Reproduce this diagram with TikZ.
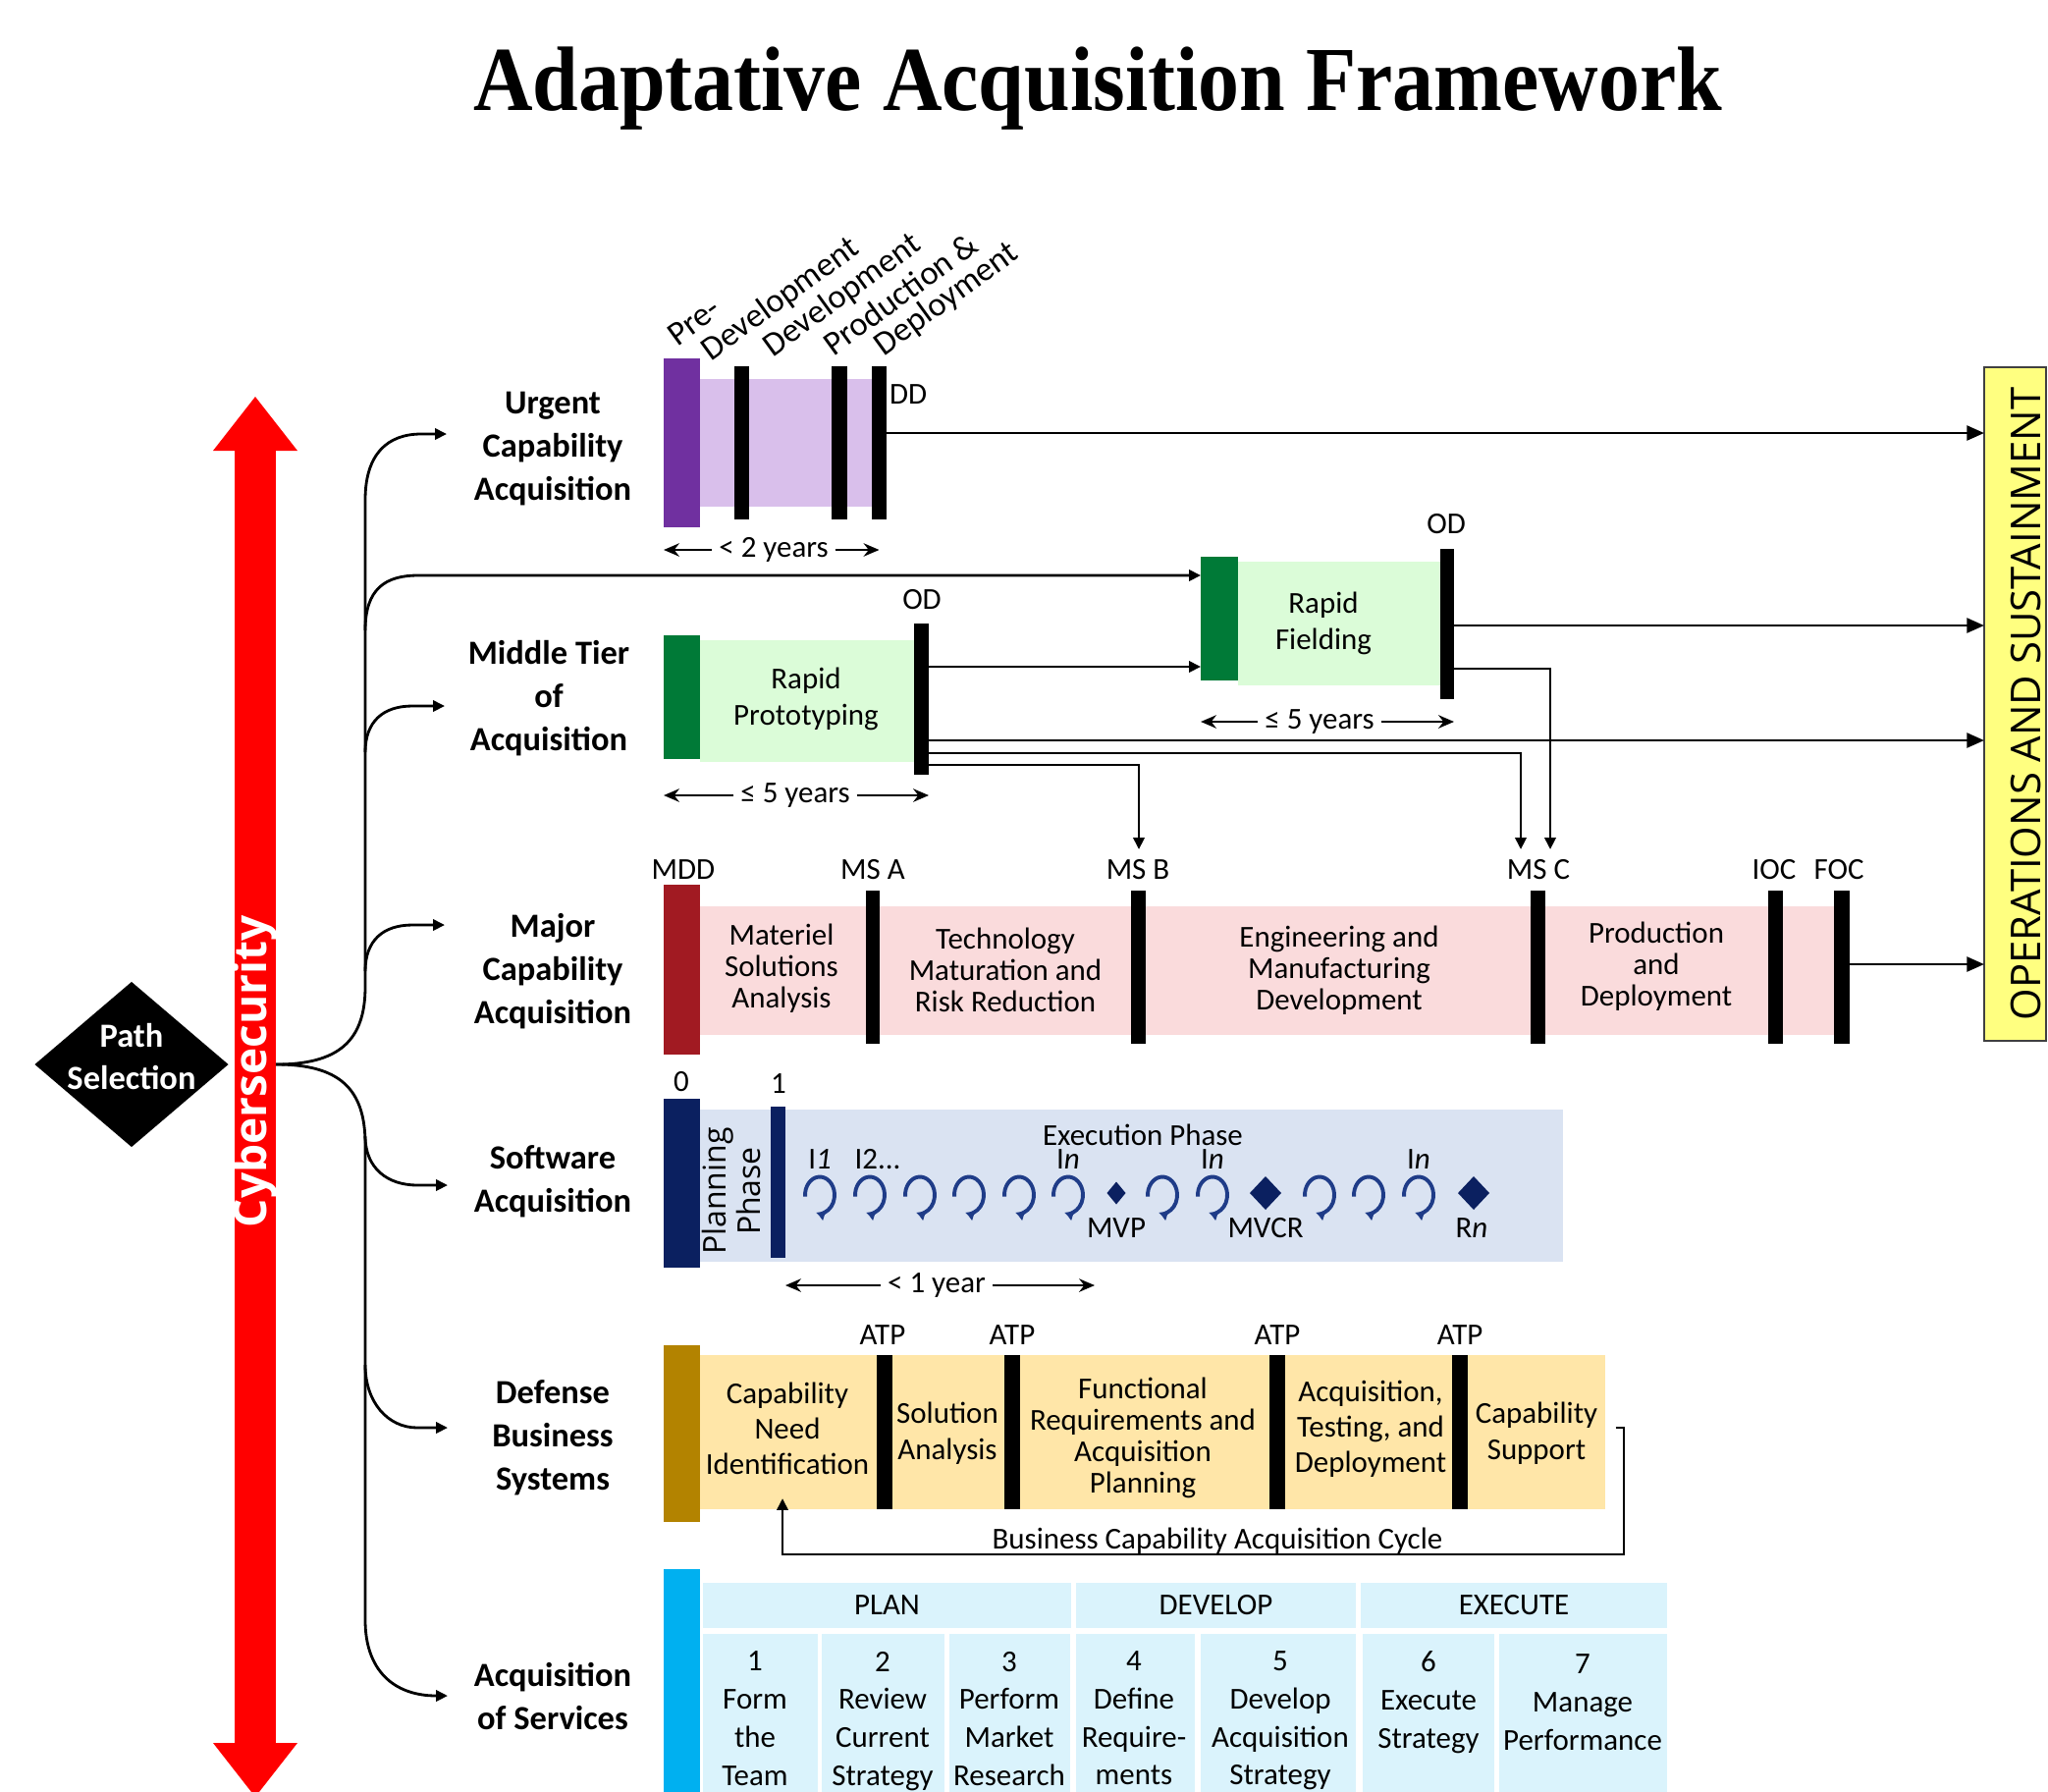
\documentclass[tikz,border=0pt]{standalone}
\usepackage{fontspec}
\setmainfont{Carlito}
\newfontfamily\osans{Open Sans}
\newfontfamily\tserif{Liberation Serif}
\usetikzlibrary{arrows.meta,fit,shapes.geometric}
\definecolor{purp}{HTML}{7030A0}
\definecolor{lpurp}{HTML}{D9BFEB}
\definecolor{dgreen}{HTML}{007A37}
\definecolor{lgreen}{HTML}{DBFCD8}
\definecolor{dred}{HTML}{A11A22}
\definecolor{pinkband}{HTML}{FADBDC}
\definecolor{navy}{HTML}{0B2060}
\definecolor{lblue}{HTML}{DAE3F2}
\definecolor{gold}{HTML}{B38300}
\definecolor{lyellow}{HTML}{FFE6A8}
\definecolor{cyanbar}{HTML}{00B0F0}
\definecolor{lcyan}{HTML}{DAF3FC}
\definecolor{opsy}{HTML}{FFFF80}
\definecolor{loopblue}{HTML}{1F3C88}
\tikzset{
  every node/.style={inner sep=0pt, outer sep=0pt},
  txt/.style={align=center, font=\fontsize{8.8}{9.1}\selectfont},
  rowlbl/.style={align=center, font=\bfseries\fontsize{9.8}{12.5}\selectfont},
  conn/.style={line width=0.8pt},
  tipS/.style={-{Triangle[length=3.4pt,width=3.2pt]}},
  tipL/.style={-{Triangle[length=5pt,width=4.2pt]}},
  dimarr/.style={line width=0.8pt, -{Stealth[length=4.5pt,width=3.8pt]}},
  rotlbl/.style={anchor=base west, rotate=36, font=\fontsize{9.8}{11}\selectfont},
  loopicon/.pic={\draw[loopblue, line width=1.1pt, -{Latex[length=2.6pt,width=3.4pt]}]
      (185:0.15cm and 0.185cm) arc[start angle=185, end angle=-105, x radius=0.15cm, y radius=0.185cm];}
}
\begin{document}
\begin{tikzpicture}[x=0.01cm,y=-0.01cm]
\useasboundingbox (0,0) rectangle (2086,1824);
\clip (0,0) rectangle (2086,1824);

% title
\node[anchor=base, font=\tserif\bfseries\fontsize{26.5}{30}\selectfont] (title) at (1118,112)
  {\scalebox{0.9}[1]{Adaptative Acquisition Framework}};

% red cybersecurity arrow
\node[fit={(239,459) (281,1775)}, fill=red] (cyber) {};
\fill[red] (217,459) -- (260,404) -- (303,459) -- cycle;
\fill[red] (217,1775) -- (260,1830) -- (303,1775) -- cycle;
\node[rotate=90, text=white, font=\osans\bfseries\fontsize{13.1}{14}\selectfont] (cybertxt) at (260,1091) {Cybersecurity};

% path selection
\node[diamond, fill=black, minimum width=1.97cm, minimum height=1.68cm] (psel) at (134,1084) {};
\node[rowlbl, text=white] (pseltxt) at (134,1076) {Path\\Selection};

% row labels
\node[rowlbl] (lU) at (563,457) {Urgent\\Capability\\Acquisition};
\node[rowlbl] (lM) at (559,711) {Middle Tier\\of\\Acquisition};
\node[rowlbl] (lJ) at (563,989) {Major\\Capability\\Acquisition};
\node[rowlbl] (lS) at (563,1203) {Software\\Acquisition};
\node[rowlbl] (lD) at (563,1464) {Defense\\Business\\Systems};
\node[rowlbl] (lA) at (563,1727) {Acquisition\\of Services};

\coordinate (J) at (cyber.east |- psel.center);
\coordinate (aU) at (455,442);
\coordinate (aM) at (453,719);
\coordinate (aJ) at (453,942);
\coordinate (aS) at (456,1207);
\coordinate (aD) at (456,1454);
\coordinate (aA) at (456,1727);

% OPS box
\node[fit={(2021,374) (2084,1060)}, fill=opsy, draw=black!75, line width=0.6pt] (ops) {};
\node[rotate=90, font=\osans\fontsize{11.9}{12}\selectfont] (opstxt) at (2063,717) {OPERATIONS AND SUSTAINMENT};

% ---------- Urgent row
\node[fit={(713,386) (890,516)}, fill=lpurp] (uBand) {};
\node[fit={(676,365) (713,537)}, fill=purp] (uPre) {};
\node[fit={(748,373) (763,529)}, fill=black] (u1) {};
\node[fit={(847,373) (863,529)}, fill=black] (u2) {};
\node[fit={(888,373) (903,529)}, fill=black] (u3) {};
\node[txt, anchor=west] (dd) at (906,402) {DD};
\node[rotlbl] (r1) at (690,353) {Pre-};
\node[rotlbl] (r2) at (724,368) {Development};
\node[rotlbl] (r3) at (787,364) {Development};
\node[rotlbl] (r4) at (849,363) {Production \&};
\node[rotlbl] (r5) at (900,363) {Deployment};
\node[txt] (u2y) at (788,560) {< 2 years};
\draw[dimarr] ([xshift=-2pt]u2y.west) -- (u2y.west -| uPre.west);
\draw[dimarr] ([xshift=2pt]u2y.east) -- (u2y.east -| u3.center);

% ---------- Middle tier row
\node[fit={(713,652) (931,776)}, fill=lgreen] (rpBand) {};
\node[fit={(676,647) (713,773)}, fill=dgreen] (rpG) {};
\node[fit={(931,635) (946,789)}, fill=black] (rpBar) {};
\node[txt, font=\fontsize{8.8}{10.5}\selectfont] (rpTxt) at (821,712) {Rapid\\Prototyping};
\node[txt] (od1) at (939,611) {OD};
\node[txt] (rp5y) at (810,810) {≤ 5 years};
\draw[dimarr] ([xshift=-2pt]rp5y.west) -- (rp5y.west -| rpG.west);
\draw[dimarr] ([xshift=2pt]rp5y.east) -- (rp5y.east -| rpBar.east);

\node[fit={(1261,572) (1470,698)}, fill=lgreen] (rfBand) {};
\node[fit={(1223,567) (1261,693)}, fill=dgreen] (rfG) {};
\node[fit={(1467,559) (1481,712)}, fill=black] (rfBar) {};
\node[txt, font=\fontsize{8.8}{10.5}\selectfont] (rfTxt) at (1348,635) {Rapid\\Fielding};
\node[txt] (od2) at (1473,534) {OD};
\node[txt] (rf5y) at (1344,735) {≤ 5 years};
\draw[dimarr] ([xshift=-2pt]rf5y.west) -- (rf5y.west -| rfG.west);
\draw[dimarr] ([xshift=2pt]rf5y.east) -- (rf5y.east -| rfBar.east);

% ---------- Major row
\node[fit={(713,923) (1869,1054)}, fill=pinkband] (mBand) {};
\node[fit={(676,901) (713,1074)}, fill=dred] (mDD) {};
\node[fit={(882,907) (896,1063)}, fill=black] (msA) {};
\node[fit={(1152,907) (1167,1063)}, fill=black] (msB) {};
\node[fit={(1559,907) (1574,1063)}, fill=black] (msC) {};
\node[fit={(1801,907) (1816,1063)}, fill=black] (ioc) {};
\node[fit={(1868,907) (1884,1063)}, fill=black] (foc) {};
\node[txt] (tMDD) at (696,886) {MDD};
\node[txt] (tMSA) at (889,886) {MS A};
\node[txt] (tMSB) at (1159,886) {MS B};
\node[txt] (tMSC) at (1567,886) {MS C};
\node[txt] (tIOC) at (1807,886) {IOC};
\node[txt] (tFOC) at (1873,886) {FOC};
\node[txt] (p1) at (796,986) {Materiel\\Solutions\\Analysis};
\node[txt] (p2) at (1024,988) {Technology\\Maturation and\\Risk Reduction};
\node[txt] (p3) at (1364,988) {Engineering and\\Manufacturing\\Development};
\node[txt] (p4) at (1687,984) {Production\\and\\Deployment};
\coordinate (msbIn) at (1160,865);
\coordinate (mscIn1) at (1549,865);
\coordinate (mscIn2) at (1579,865);

% ---------- Software row
\node[fit={(713,1130) (1592,1285)}, fill=lblue] (sBand) {};
\node[fit={(676,1119) (713,1291)}, fill=navy] (s0) {};
\node[fit={(785,1127) (800,1281)}, fill=navy] (s1) {};
\node[txt] (t0) at (694,1102) {0};
\node[txt] (t1) at (793,1104) {1};
\node[rotate=90, align=center, font=\osans\fontsize{9.1}{8.2}\selectfont] (plan) at (745,1213) {Planning\\Phase};
\node[txt] (exec) at (1164,1156) {Execution Phase};
\foreach \xx in {835,886,937,987,1038,1088,1184,1235,1344,1394,1445} {
  \pic at (\xx,1217) {loopicon};
}
\node[diamond, fill=navy, minimum width=0.19cm, minimum height=0.23cm] (mvp) at (1137,1215) {};
\node[diamond, fill=navy, minimum width=0.32cm, minimum height=0.34cm] (mvcr) at (1289,1215) {};
\node[diamond, fill=navy, minimum width=0.32cm, minimum height=0.34cm] (rn) at (1501,1215) {};
\node[txt] (i1) at (835,1181) {I\textit{1}};
\node[txt] (i2) at (894,1181) {I2...};
\node[txt] (in1) at (1088,1181) {I\textit{n}};
\node[txt] (in2) at (1235,1181) {I\textit{n}};
\node[txt] (in3) at (1445,1181) {I\textit{n}};
\node[txt] (tmvp) at (1137,1251) {MVP};
\node[txt] (tmvcr) at (1289,1251) {MVCR};
\node[txt] (trn) at (1499,1251) {R\textit{n}};
\node[txt] (s1y) at (954,1309) {< 1 year};
\coordinate (s1yR) at (1115,1301);
\draw[dimarr] ([xshift=-2pt]s1y.west) -- (s1y.west -| s1.east);
\draw[dimarr] ([xshift=2pt]s1y.east) -- (s1y.east -| s1yR);

% ---------- Defense business systems row
\node[fit={(713,1380) (1635,1537)}, fill=lyellow] (dBand) {};
\node[fit={(676,1370) (713,1550)}, fill=gold] (d0) {};
\node[fit={(893,1380) (909,1537)}, fill=black] (atp1) {};
\node[fit={(1023,1380) (1039,1537)}, fill=black] (atp2) {};
\node[fit={(1293,1380) (1309,1537)}, fill=black] (atp3) {};
\node[fit={(1479,1380) (1495,1537)}, fill=black] (atp4) {};
\node[txt] (ta1) at (899,1360) {ATP};
\node[txt] (ta2) at (1031,1360) {ATP};
\node[txt] (ta3) at (1301,1360) {ATP};
\node[txt] (ta4) at (1487,1360) {ATP};
\node[txt, font=\fontsize{8.8}{10.2}\selectfont] (dd1) at (802,1455) {Capability\\Need\\Identification};
\node[txt, font=\fontsize{8.8}{10.6}\selectfont] (dd2) at (965,1460) {Solution\\Analysis};
\node[txt] (dd3) at (1164,1464) {Functional\\Requirements and\\Acquisition\\Planning};
\node[txt, font=\fontsize{8.8}{10.2}\selectfont] (dd4) at (1396,1455) {Acquisition,\\Testing, and\\Deployment};
\node[txt, font=\fontsize{8.8}{10.6}\selectfont] (dd5) at (1565,1460) {Capability\\Support};
\coordinate (cycIn) at (797,1526);
\draw[conn, tipS] ([xshift=3pt]dBand.east |- 0,1454) -- (1654,1454) -- (1654,1583) -| (cycIn);
\node[txt] (cyc) at (1240,1569) {Business Capability Acquisition Cycle};

% ---------- Acquisition of services row
\node[fit={(676,1598) (713,1830)}, fill=cyanbar] (a0) {};
\node[fit={(716,1612) (1091,1658)}, fill=lcyan] (hPlan) {};
\node[fit={(1096,1612) (1381,1658)}, fill=lcyan] (hDev) {};
\node[fit={(1386,1612) (1698,1658)}, fill=lcyan] (hExe) {};
\node[txt] at (hPlan.center) {PLAN};
\node[txt] at (hDev.center) {DEVELOP};
\node[txt] at (hExe.center) {EXECUTE};
\node[fit={(716,1664) (833,1830)}, fill=lcyan] (c1) {};
\node[fit={(837,1664) (962,1830)}, fill=lcyan] (c2) {};
\node[fit={(967,1664) (1090,1830)}, fill=lcyan] (c3) {};
\node[fit={(1096,1664) (1217,1830)}, fill=lcyan] (c4) {};
\node[fit={(1223,1664) (1381,1830)}, fill=lcyan] (c5) {};
\node[fit={(1388,1664) (1522,1830)}, fill=lcyan] (c6) {};
\node[fit={(1527,1664) (1698,1830)}, fill=lcyan] (c7) {};
\tikzset{celltxt/.style={anchor=north, align=center, font=\fontsize{8.8}{11}\selectfont}}
\node[celltxt] (ct1) at (769,1682) {1\\Form\\the\\Team};
\node[celltxt] (ct2) at (899,1682) {2\\Review\\Current\\Strategy};
\node[celltxt] (ct3) at (1028,1682) {3\\Perform\\Market\\Research};
\node[celltxt] (ct4) at (1155,1682) {4\\Define\\Require-\\ments};
\node[celltxt] (ct5) at (1304,1682) {5\\Develop\\Acquisition\\Strategy};
\node[celltxt] (ct6) at (1455,1682) {6\\Execute\\Strategy};
\node[celltxt] (ct7) at (1612,1685) {7\\Manage\\Performance};

% ---------- tree connectors
\draw[conn, tipS] (J) .. controls (345,1084) and (372,1060) .. (372,1005) -- (372,509)
   .. controls (372,462) and (395,442) .. (429,442) -- (aU);
\draw[conn, tipS] (J) .. controls (345,1084) and (372,1108) .. (372,1165) -- (372,1650)
   .. controls (372,1700) and (400,1727) .. (aA);
\draw[conn, tipS] (372,642) .. controls (372,600) and (392,586) .. (426,586) -- (rfG.west |- 0,586);
\draw[conn, tipS] (372,766) .. controls (372,735) and (390,719) .. (420,719) -- (aM);
\draw[conn, tipS] (372,989) .. controls (372,958) and (390,942) .. (420,942) -- (aJ);
\draw[conn, tipS] (372,1157) .. controls (372,1190) and (395,1207) .. (425,1207) -- (aS);
\draw[conn, tipS] (372,1390) .. controls (372,1428) and (395,1454) .. (425,1454) -- (aD);

% ---------- process connectors
\draw[conn, tipL] (u3.east |- 0,441) -- (ops.west |- 0,441);
\draw[conn, tipS] (rpBar.east |- 0,679) -- (rfG.west |- 0,679);
\draw[conn, tipL] (rfBar.east |- 0,637) -- (ops.west |- 0,637);
\draw[conn, tipS] (rfBar.east |- 0,681) -| (mscIn2);
\draw[conn, tipL] (rpBar.east |- 0,754) -- (ops.west |- 0,754);
\draw[conn, tipS] (rpBar.east |- 0,767) -| (mscIn1);
\draw[conn, tipS] (rpBar.east |- 0,779) -| (msbIn);
\draw[conn, tipL] (foc.east |- 0,982) -- (ops.west |- 0,982);
\end{tikzpicture}
\end{document}
